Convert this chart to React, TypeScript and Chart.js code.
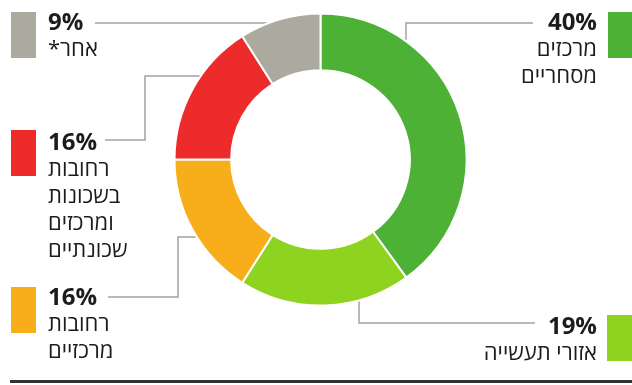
import React, { useEffect, useRef } from "react";
import { Chart, registerables } from "chart.js";

Chart.register(...registerables);

const categories = ["מרכזים מסחריים", "אזורי תעשייה", "רחובות מרכזיים", "רחובות בשכונות ומרכזים שכונתיים", "אחר*"];
const shares = [40, 19, 16, 16, 9];
const labelLines = [
  ["מרכזים", "מסחריים"],
  ["אזורי תעשייה"],
  ["רחובות", "מרכזיים"],
  ["רחובות", "בשכונות", "ומרכזים", "שכונתיים"],
  ["אחר*"],
];
const colors = ["#4cb135", "#8ed31f", "#f8ae1b", "#ee2b2b", "#aca99f"];

// label placement: side, top of block
const labelPos = [
  { side: "right", top: 7 },
  { side: "right", top: 311 },
  { side: "left", top: 282 },
  { side: "left", top: 127 },
  { side: "left", top: 7 },
];
const squarePos = [
  { x: 608, y: 12 },
  { x: 607, y: 315 },
  { x: 11, y: 287 },
  { x: 11, y: 130 },
  { x: 11, y: 12 },
];
const connectors = [
  "533,23 406,23 406,50",
  "535,323 359,323 359,295",
  "108,297 178,297 178,237 200,237",
  "105,140 145,140 145,76 205,76",
  "95,23 280,23",
];

export default function App() {
  const ref = useRef<HTMLCanvasElement>(null);
  useEffect(() => {
    if (!ref.current) return;
    const chart = new Chart(ref.current, {
      type: "doughnut",
      data: {
        labels: categories,
        datasets: [
          {
            data: shares,
            backgroundColor: colors,
            borderColor: "#ffffff",
            borderWidth: 2,
          },
        ],
      },
      options: {
        responsive: false,
        animation: false,
        radius: 146,
        cutout: 97,
        layout: { padding: { left: 9, right: 0, top: 0, bottom: 66 } },
        plugins: { legend: { display: false }, tooltip: { enabled: false } },
      } as any,
    });
    return () => chart.destroy();
  }, []);

  const textColor = "#1c1c1c";
  return (
    <div
      style={{
        position: "fixed",
        left: 0,
        top: 0,
        width: 632,
        height: 385,
        background: "#ffffff",
        overflow: "hidden",
        fontFamily: "'Open Sans', 'DejaVu Sans', sans-serif",
      }}
    >
      <svg width={632} height={385} style={{ position: "absolute", left: 0, top: 0 }}>
        {connectors.map((pts, i) => (
          <polyline key={i} points={pts} fill="none" stroke="#a3a3a3" strokeWidth={1.5} />
        ))}
        <line x1={10} y1={381.5} x2={632} y2={381.5} stroke="#333333" strokeWidth={3} />
      </svg>
      <canvas ref={ref} width={632} height={385} style={{ position: "absolute", left: 0, top: 0 }} />
      {squarePos.map((p, i) => (
        <div
          key={"s" + i}
          style={{ position: "absolute", left: p.x, top: p.y, width: 25, height: 46, background: colors[i] }}
        />
      ))}
      {labelPos.map((p, i) => (
        <div
          key={"l" + i}
          style={{
            position: "absolute",
            top: p.top,
            ...(p.side === "left" ? { left: 48 } : { right: 35 }),
            textAlign: p.side === "left" ? "left" : "right",
            color: textColor,
            lineHeight: "27px",
            whiteSpace: "nowrap",
          }}
        >
          <div style={{ fontWeight: 700, fontSize: 24, direction: "ltr" }}>{shares[i] + "%"}</div>
          {labelLines[i].map((t, j) => (
            <div key={j} style={{ fontSize: 22, direction: "rtl" }}>
              {t}
            </div>
          ))}
        </div>
      ))}
    </div>
  );
}
